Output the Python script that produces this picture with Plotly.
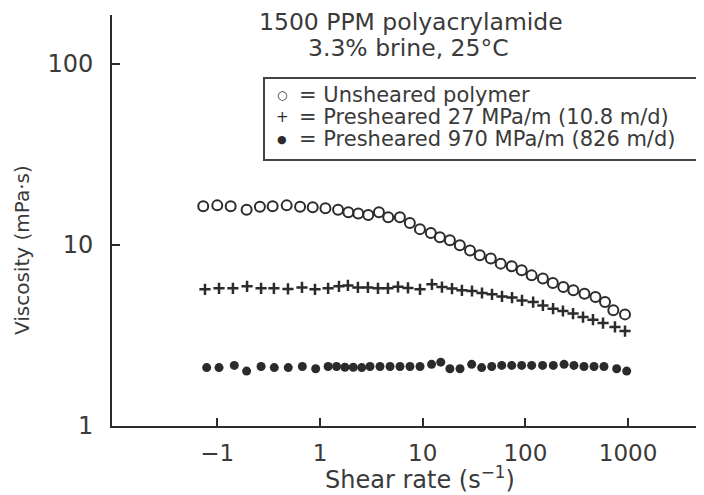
import plotly.graph_objects as go

# ---- data ----
unsheared_x = [0.073, 0.10, 0.135, 0.193, 0.26, 0.346, 0.474, 0.64, 0.85, 1.13,
               1.50, 1.89, 2.36, 2.95, 3.75, 4.62, 6.0, 7.5, 9.4, 12.0,
               14.7, 18.4, 23, 28.9, 36, 46, 57.5, 73.6, 92, 115,
               148, 185, 234, 293, 376, 481, 596, 718, 933]
unsheared_y = [16.3, 16.5, 16.3, 15.6, 16.2, 16.3, 16.5, 16.2, 16.1, 15.9,
               15.6, 15.1, 14.9, 14.6, 15.1, 14.2, 14.2, 13.2, 12.2, 11.6,
               11.0, 10.6, 9.94, 9.3, 8.75, 8.39, 7.87, 7.61, 7.23, 6.78,
               6.51, 6.15, 5.85, 5.61, 5.37, 5.15, 4.83, 4.35, 4.13]

pre27_x = [0.0759, 0.104, 0.142, 0.195, 0.267, 0.356, 0.488, 0.668, 0.894, 1.20,
           1.53, 1.87, 2.34, 2.93, 3.67, 4.59, 5.75, 7.19, 9.42, 12.3,
           15.4, 19.3, 24.1, 30.2, 37.8, 47.3, 59.2, 74.1, 92.7, 119,
           148, 186, 232, 291, 364, 455, 570, 745, 933]
pre27_y = [5.68, 5.75, 5.75, 5.90, 5.75, 5.75, 5.71, 5.82, 5.68, 5.75,
           5.90, 5.97, 5.82, 5.82, 5.75, 5.75, 5.86, 5.78, 5.68, 6.05,
           5.84, 5.73, 5.61, 5.56, 5.42, 5.33, 5.19, 5.11, 4.93, 4.83,
           4.63, 4.44, 4.31, 4.17, 3.99, 3.86, 3.70, 3.52, 3.34]

pre970_x = [0.0788, 0.104, 0.1465, 0.193, 0.267, 0.359, 0.491, 0.673, 0.908, 1.20,
            1.45, 1.75, 2.11, 2.55, 3.07, 3.84, 4.81, 6.01, 7.52, 9.42,
            12.2, 15.0, 18.4, 23.1, 30.0, 37.5, 47.0, 58.8, 73.6, 92.0,
            115, 147, 187, 238, 297, 372, 466, 582, 774, 969]
pre970_y = [2.10, 2.10, 2.16, 2.01, 2.13, 2.10, 2.10, 2.13, 2.07, 2.13,
            2.13, 2.11, 2.11, 2.10, 2.13, 2.13, 2.13, 2.13, 2.13, 2.13,
            2.19, 2.25, 2.07, 2.07, 2.19, 2.10, 2.13, 2.16, 2.16, 2.16,
            2.16, 2.16, 2.16, 2.19, 2.16, 2.13, 2.13, 2.13, 2.07, 2.01]

x_tickvals = [0.1, 1, 10, 100, 1000]
x_ticktext = ["\u22121", "1", "10", "100", "1000"]
y_tickvals = [1, 10, 100]
y_ticktext = ["1", "10", "100"]

title_lines = ["1500 PPM polyacrylamide", "3.3% brine, 25\u00b0C"]
x_title = "Shear rate (s<sup>\u22121</sup>)"
y_title = "Viscosity (mPa\u00b7s)"
legend_labels = ["= Unsheared polymer",
                 "= Presheared 27 MPa/m (10.8 m/d)",
                 "= Presheared 970 MPa/m (826 m/d)"]
legend_symbols = ["\u25cb", "+", "\u25cf"]

FONT = "DejaVu Sans"
TXT = "#3a3a3a"
INK = "#2b2b2b"

fig = go.Figure()
fig.add_trace(go.Scatter(x=unsheared_x, y=unsheared_y, mode="markers",
                         marker=dict(symbol="circle-open", size=10, color=INK,
                                     line=dict(width=2, color=INK)),
                         name=legend_labels[0], showlegend=False))
fig.add_trace(go.Scatter(x=pre27_x, y=pre27_y, mode="markers",
                         marker=dict(symbol="cross-thin", size=8, color=INK,
                                     line=dict(width=2.5, color=INK)),
                         name=legend_labels[1], showlegend=False))
fig.add_trace(go.Scatter(x=pre970_x, y=pre970_y, mode="markers",
                         marker=dict(symbol="circle", size=9, color=INK,
                                     line=dict(width=0)),
                         name=legend_labels[2], showlegend=False))

# page has an 8px body margin: figure is drawn from (8, 8)
OFF = 8
W, H = 704 - OFF, 495 - OFF
# target plot area in window pixels: x 112..704, y 15..426
L, R, T, B = 112 - OFF, 0, 15 - OFF, 495 - 426
pw, ph = W - L - R, H - T - B

def px(xp):  # window pixel -> paper x
    return (xp - OFF - L) / pw

def py(yp):  # window pixel -> paper y
    return (H - B - (yp - OFF)) / ph

def note(text, x, y, size, color=TXT, xanchor="center", angle=0):
    return dict(text=text, x=px(x), y=py(y), xref="paper", yref="paper",
                showarrow=False, xanchor=xanchor, yanchor="middle", textangle=angle,
                font=dict(family=FONT, size=size, color=color))

annotations = [
    note(title_lines[0], 411, 22, 23.5),
    note(title_lines[1], 408, 48, 23.5),
    note(x_title, 420, 478, 24),
    note(y_title, 22, 250, 20, angle=-90),
]

leg_y = [95, 117, 139]
sym_sizes = [12, 15, 11]
for lab, sym, yy, ss in zip(legend_labels, legend_symbols, leg_y, sym_sizes):
    annotations.append(note(sym, 282, yy, ss, color=INK))
    annotations.append(note(lab, 297, yy, 21, xanchor="left"))

fig.update_layout(
    width=W, height=H,
    margin=dict(l=L, r=R, t=T, b=B, pad=0),
    paper_bgcolor="white", plot_bgcolor="white",
    showlegend=False,
    annotations=annotations,
    shapes=[dict(type="rect", xref="paper", yref="paper",
                 x0=px(264), x1=px(740), y0=py(160), y1=py(78),
                 line=dict(color="#444444", width=2), fillcolor="rgba(0,0,0,0)")],
    xaxis=dict(type="log", range=[-2.025, 3.739], showgrid=False, zeroline=False,
               showline=True, linecolor=INK, linewidth=2,
               ticks="inside", ticklen=8, tickwidth=2, tickcolor=INK,
               tickvals=x_tickvals, ticktext=x_ticktext,
               tickfont=dict(family=FONT, size=23, color=TXT),
               ticklabelstandoff=5),
    yaxis=dict(type="log", range=[0, 2.268], showgrid=False, zeroline=False,
               showline=True, linecolor=INK, linewidth=2,
               ticks="inside", ticklen=8, tickwidth=2, tickcolor=INK,
               tickvals=y_tickvals, ticktext=y_ticktext,
               tickfont=dict(family=FONT, size=24, color=TXT),
               ticklabelstandoff=12),
)

fig.write_html("out.html")
